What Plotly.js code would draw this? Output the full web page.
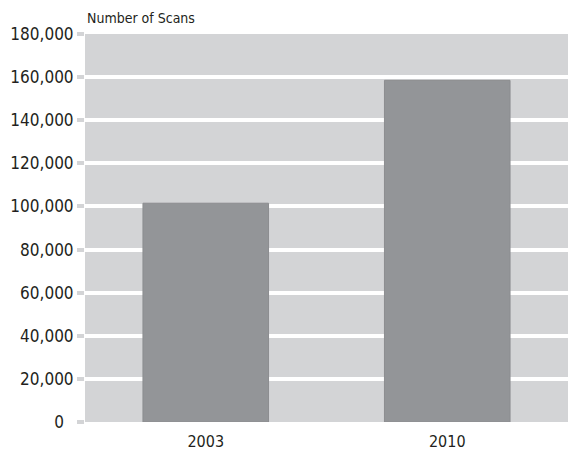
<!DOCTYPE html>
<html><head><meta charset="utf-8">
<script src="https://cdn.plot.ly/plotly-3.0.1.min.js"></script>
<style>body{margin:0;padding:0;background:#fff}#chart{width:568px;height:451px}</style>
</head><body><div id="chart"></div>
<script>
var categories = ['2003', '2010'];
var scans = [101500, 158500];
var yTickVals = [0, 20000, 40000, 60000, 80000, 100000, 120000, 140000, 160000, 180000];
var yTickText = ['0\u2007', '20,000', '40,000', '60,000', '80,000', '100,000', '120,000', '140,000', '160,000', '180,000'];
var yTitle = 'Number of Scans';

var font = '"DejaVu Sans Condensed", sans-serif';
var trace = {
  type: 'bar', x: categories, y: scans,
  marker: {color: '#939598', line: {color: '#8c8d90', width: 1}},
  hoverinfo: 'none'
};
var layout = {
  width: 568, height: 451,
  margin: {l: 85, r: 0, t: 34, b: 29, pad: 0},
  paper_bgcolor: '#ffffff', plot_bgcolor: '#d3d4d6',
  bargap: 0.48,
  showlegend: false,
  font: {family: font, color: '#231f20'},
  xaxis: {type: 'category', showgrid: false, zeroline: false, showline: false,
          ticks: 'outside', ticklen: 5, tickcolor: 'rgba(0,0,0,0)',
          tickfont: {size: 16, family: font, color: '#231f20'}},
  yaxis: {range: [0, 180000], tickvals: yTickVals, ticktext: yTickText,
          showgrid: true, gridcolor: '#ffffff', gridwidth: 4, zeroline: false, showline: false,
          ticks: 'outside', ticklen: 7, tickwidth: 4, tickcolor: '#d3d4d6',
          tickfont: {size: 17, family: font, color: '#231f20'}},
  annotations: [{text: yTitle, xref: 'paper', yref: 'paper', x: 0, y: 1, xanchor: 'left', yanchor: 'bottom',
                 yshift: 6, showarrow: false, font: {size: 14, family: font, color: '#231f20'}}]
};
Plotly.newPlot('chart', [trace], layout, {displayModeBar: false, staticPlot: true});
</script></body></html>
